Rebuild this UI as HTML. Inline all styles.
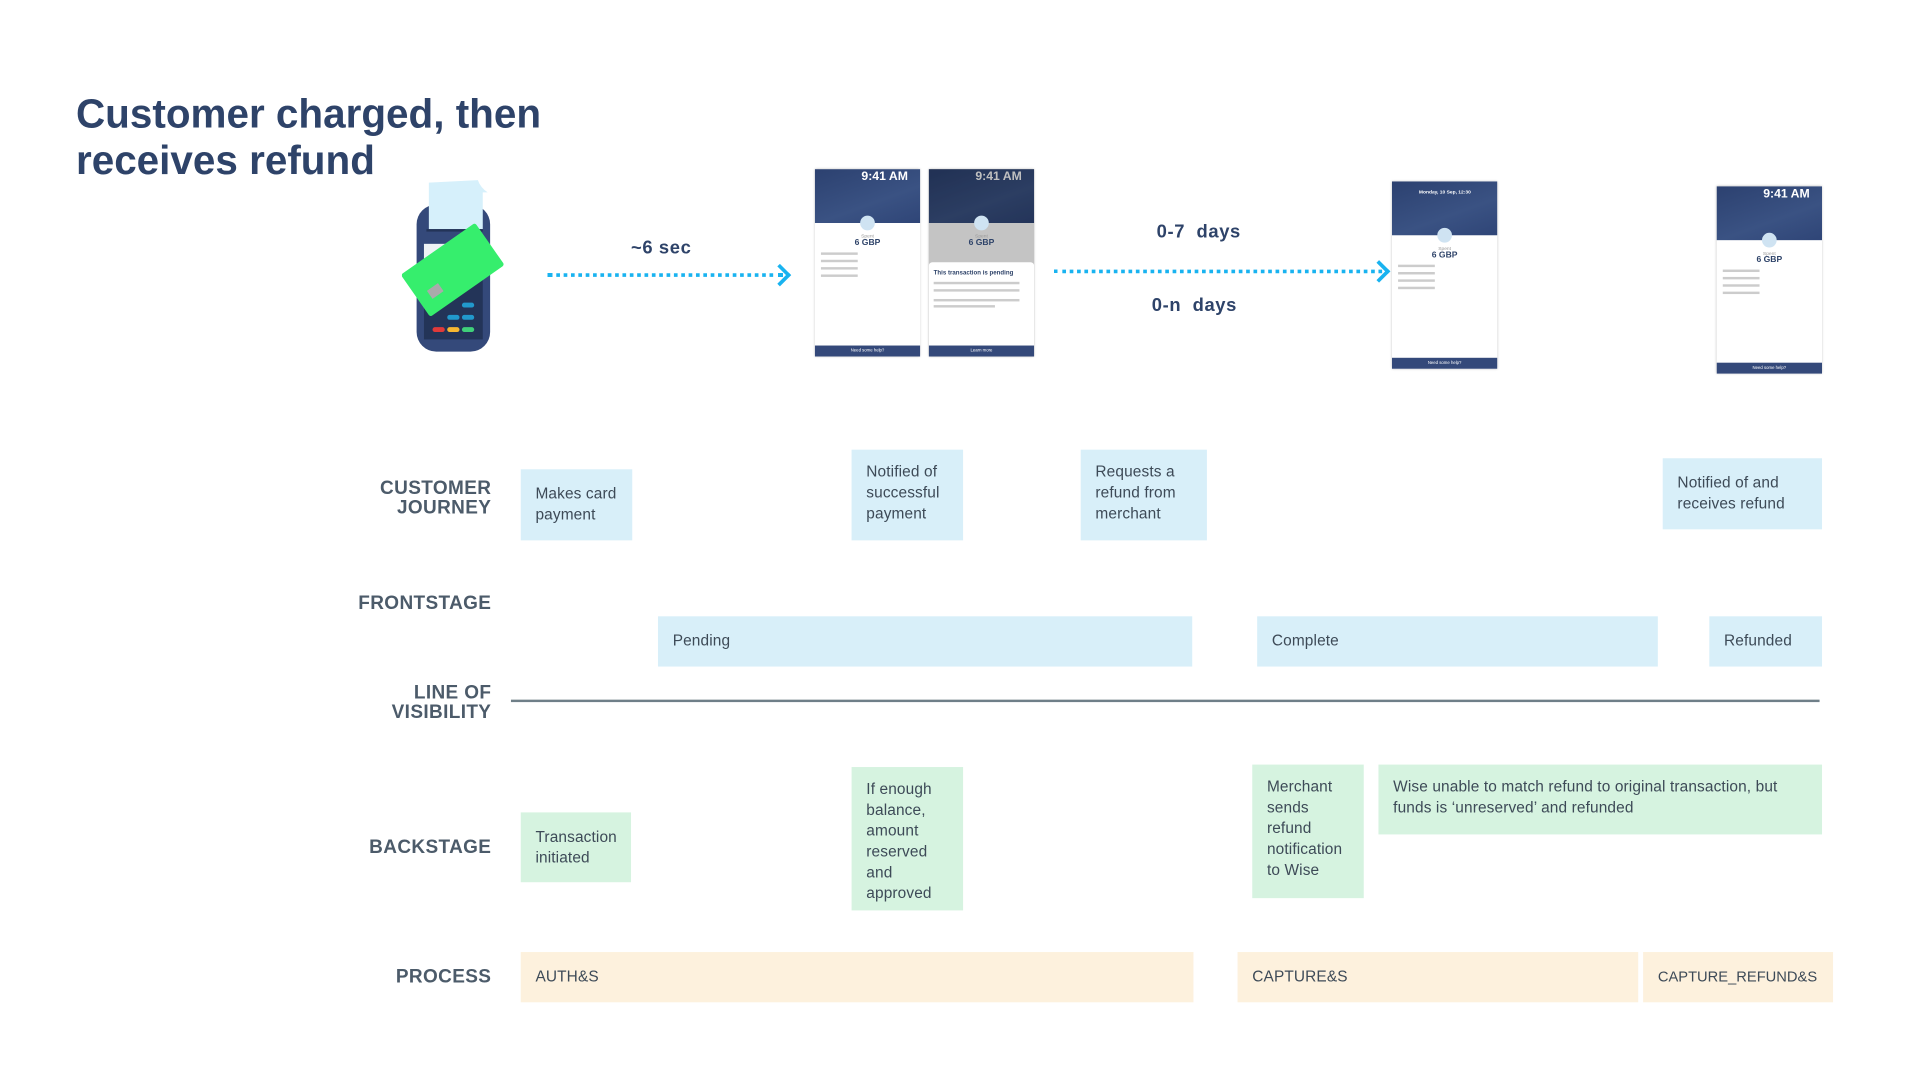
<!DOCTYPE html>
<html><head><meta charset="utf-8"><style>
html,body{margin:0;padding:0;width:1920px;height:1080px;overflow:hidden;background:#fff;}
#c{position:absolute;left:0;top:0;width:1567px;height:882px;transform:scale(1.2253);transform-origin:0 0;font-family:"Liberation Sans",sans-serif;}
.a{position:absolute;}
.t{color:#2e4369;font-weight:bold;font-size:33px;line-height:38px;left:62px;top:74px;}
.lbl{position:absolute;right:1166px;text-align:right;color:#4c5b6a;font-size:15.5px;font-weight:bold;letter-spacing:0.3px;line-height:16px;}
.bx{position:absolute;box-sizing:border-box;padding:10px 12px;font-size:12.6px;line-height:17px;color:#3d4a57;letter-spacing:0.1px;}
.b{background:#d8eff9;}
.g{background:#d6f3e0;}
.p{background:#fdf1dd;display:flex;align-items:center;}
.f{display:flex;align-items:center;}
.ph{position:absolute;width:86px;background:#fff;box-shadow:0 0 2px rgba(0,0,0,.3);overflow:hidden;}
.ph .hd{height:44px;background:linear-gradient(160deg,#2c4170,#3a5283 60%,#2f4577);position:relative;color:#fff;font-size:10px;}
.ph .hd span{position:absolute;left:38px;top:1px;font-weight:bold;}
.ph .ic{width:12px;height:12px;border-radius:6px;background:#cfe3f2;margin:-6px auto 0;position:relative;}
.ph .s{text-align:center;font-size:4px;color:#999;margin-top:2px}
.ph .amt{text-align:center;font-size:7px;font-weight:bold;color:#2e4369;}
.ph .ln{height:2px;background:#ccc;margin:4px 5px;width:30px}
.ph .ft{position:absolute;bottom:0;left:0;right:0;height:9px;background:#34497a;color:#fff;font-size:3.5px;text-align:center;line-height:9px}
.dot{position:absolute;height:0;border-top:3px dotted #19b3f0;}
.arr{position:absolute;width:10px;height:10px;border-top:3px solid #19b3f0;border-right:3px solid #19b3f0;transform:rotate(45deg);}
.nm{position:absolute;font-size:15px;font-weight:bold;color:#2e4369;letter-spacing:0.5px;}
</style></head><body><div id="c">
<div class="a t">Customer charged, then<br>receives refund</div>

<!-- terminal -->
<svg class="a" style="left:328px;top:145px" width="86" height="145" viewBox="0 0 86 145">
<rect x="12" y="22" width="60" height="120" rx="16" fill="#34497a"/>
<path d="M22 4 L62 2 Q64 8 70 12 L66 12 L66 42 L22 42 Z" fill="#d6f0fb"/>
<rect x="20" y="42" width="46" height="2" fill="#233458"/>
<rect x="18" y="54" width="48" height="20" fill="#eef3f5"/>
<rect x="18" y="74" width="48" height="58" fill="#233458"/>
<rect x="25" y="122" width="10" height="4" rx="2" fill="#e03a3a"/>
<rect x="37" y="122" width="10" height="4" rx="2" fill="#f7b731"/>
<rect x="49" y="122" width="10" height="4" rx="2" fill="#3fd07a"/>
<rect x="49" y="112" width="10" height="4" rx="2" fill="#2199cc"/>
<rect x="37" y="112" width="10" height="4" rx="2" fill="#2199cc"/>
<rect x="49" y="102" width="10" height="4" rx="2" fill="#2199cc"/>
<g transform="rotate(-35 40 75)"><rect x="4" y="55" width="74" height="42" rx="2" fill="#36ee6d"/><rect x="14" y="78" width="11" height="8" fill="#aaa"/></g>
</svg>

<div class="nm" style="left:515px;top:194px">~6 sec</div>
<div class="dot" style="left:447px;top:223px;width:192px"></div>
<div class="arr" style="left:630px;top:218px"></div>

<div class="nm" style="left:944px;top:181px">0-7&nbsp; days</div>
<div class="nm" style="left:940px;top:241px">0-n&nbsp; days</div>
<div class="dot" style="left:860px;top:220px;width:268px"></div>
<div class="arr" style="left:1119px;top:215px"></div>

<div class="ph" style="left:665px;top:138px;height:153px"><div class="hd"><span>9:41 AM</span></div><div class="ic"></div><div class="s">Spent</div><div class="amt">6 GBP</div><div class="ln"></div><div class="ln"></div><div class="ln"></div><div class="ln"></div><div class="ft">Need some help?</div></div>
<div class="ph" style="left:758px;top:138px;height:153px;background:#c4c4c4"><div class="hd" style="filter:brightness(.75)"><span>9:41 AM</span></div><div class="ic"></div><div class="s">Spent</div><div class="amt">6 GBP</div>
<div style="position:absolute;left:0;right:0;top:76px;bottom:0;background:#fff;border-radius:3px 3px 0 0;padding:6px 4px;font-size:5px;color:#2e4369;font-weight:bold">This transaction is pending<div class="ln" style="margin:4px 0;width:70px"></div><div class="ln" style="margin:3px 0;width:70px"></div><div class="ln" style="margin:6px 0 3px;width:70px"></div><div class="ln" style="margin:3px 0;width:50px"></div></div><div class="ft">Learn more</div></div>
<div class="ph" style="left:1136px;top:148px;height:153px"><div class="hd"><span style="font-size:4px;left:22px;top:6px">Monday, 10 Sep, 12:30</span></div><div class="ic"></div><div class="s">Spent</div><div class="amt">6 GBP</div><div class="ln"></div><div class="ln"></div><div class="ln"></div><div class="ln"></div><div class="ft">Need some help?</div></div>
<div class="ph" style="left:1401px;top:152px;height:153px"><div class="hd"><span>9:41 AM</span></div><div class="ic"></div><div class="s">Spent</div><div class="amt">6 GBP</div><div class="ln"></div><div class="ln"></div><div class="ln"></div><div class="ln"></div><div class="ft">Need some help?</div></div>

<div class="lbl" style="top:391px">CUSTOMER<br>JOURNEY</div>
<div class="lbl" style="top:485px">FRONTSTAGE</div>
<div class="lbl" style="top:558px">LINE OF<br>VISIBILITY</div>
<div class="lbl" style="top:684px">BACKSTAGE</div>
<div class="lbl" style="top:790px">PROCESS</div>

<div class="bx b f" style="left:425px;top:383px;width:91px;height:58px">Makes card payment</div>
<div class="bx b" style="left:695px;top:367px;width:91px;height:74px">Notified of successful payment</div>
<div class="bx b" style="left:882px;top:367px;width:103px;height:74px">Requests a refund from merchant</div>
<div class="bx b f" style="left:1357px;top:374px;width:130px;height:58px">Notified of and receives refund</div>

<div class="bx b f" style="left:537px;top:503px;width:436px;height:41px">Pending</div>
<div class="bx b f" style="left:1026px;top:503px;width:327px;height:41px">Complete</div>
<div class="bx b f" style="left:1395px;top:503px;width:92px;height:41px">Refunded</div>

<div class="a" style="left:417px;top:571px;width:1068px;height:2px;background:#6f7f88"></div>

<div class="bx g f" style="left:425px;top:663px;width:90px;height:57px">Transaction initiated</div>
<div class="bx g" style="left:695px;top:626px;width:91px;height:117px;padding-top:10px">If enough balance, amount reserved and approved</div>
<div class="bx g" style="left:1022px;top:624px;width:91px;height:109px">Merchant sends refund notification to Wise</div>
<div class="bx g" style="left:1125px;top:624px;width:362px;height:57px">Wise unable to match refund to original transaction, but funds is ‘unreserved’ and refunded</div>

<div class="bx p" style="left:425px;top:777px;width:549px;height:41px">AUTH&amp;S</div>
<div class="bx p" style="left:1010px;top:777px;width:327px;height:41px">CAPTURE&amp;S</div>
<div class="bx p" style="left:1341px;top:777px;width:155px;height:41px;padding-left:12px;font-size:12px;letter-spacing:0">CAPTURE_REFUND&amp;S</div>
</div></body></html>
